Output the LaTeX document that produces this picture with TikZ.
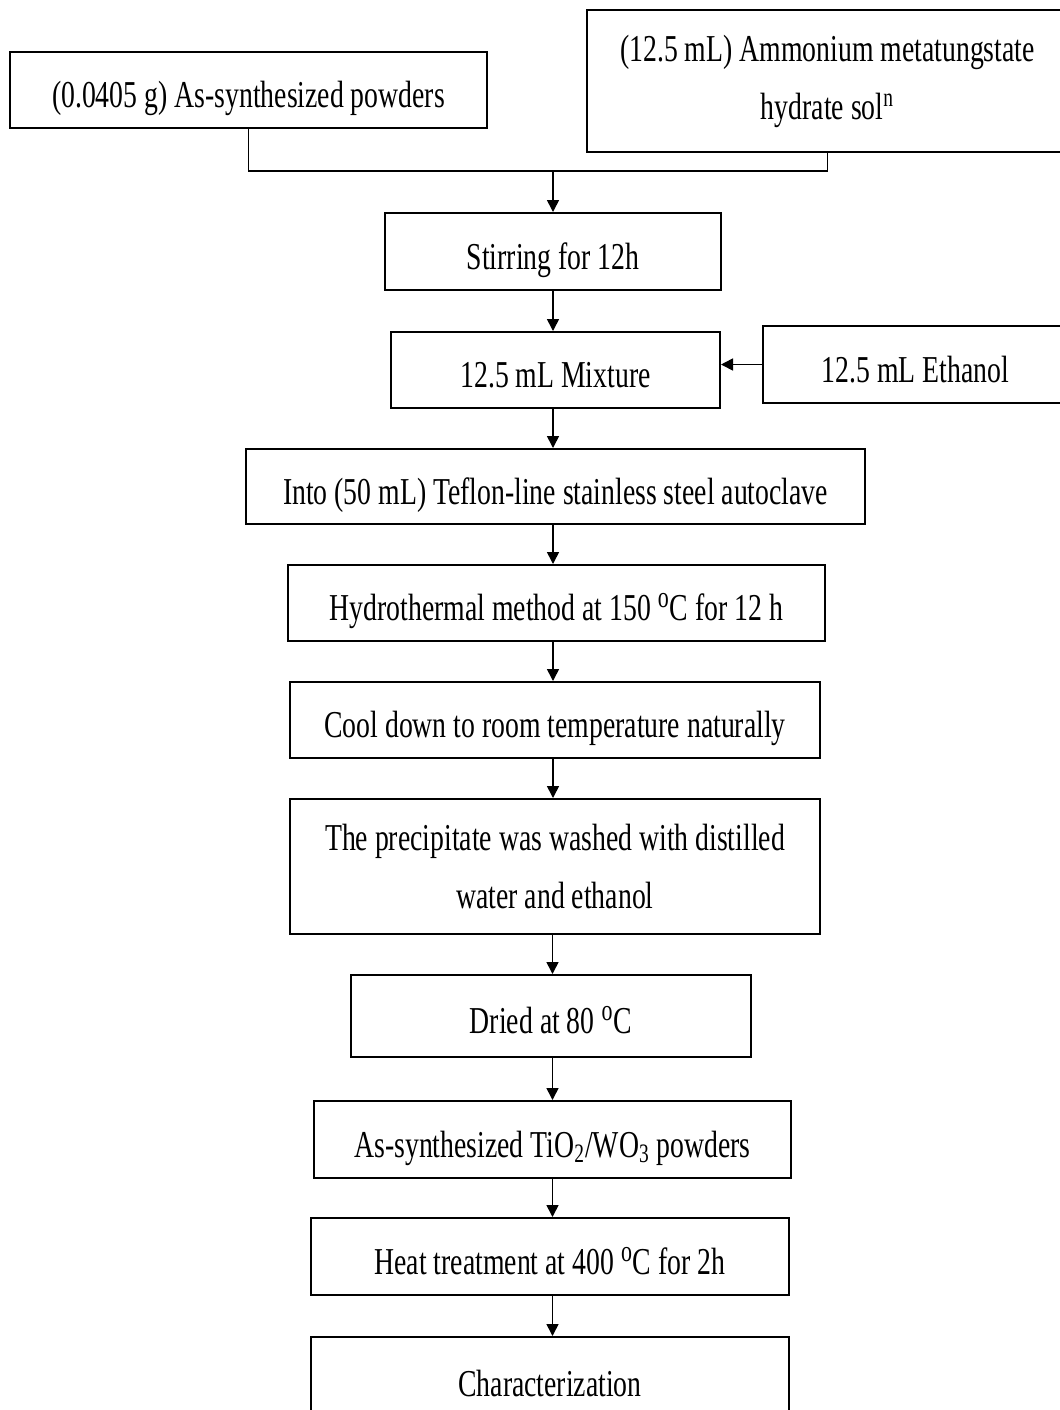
\documentclass[tikz,border=0pt]{standalone}
\usepackage{fontspec}
\setmainfont[FakeStretch=0.73]{Liberation Serif}
\usetikzlibrary{arrows.meta}

\newcommand{\dego}{\raisebox{6.5pt}{\fontsize{15pt}{15pt}\selectfont o}\kern0.5pt}

\tikzset{
  >={Stealth[length=6pt,width=6pt,inset=0pt]},   % arrow tip
  blk/.style={draw, line width=1pt, inner sep=0pt, align=center,
    text height=17.5pt, text depth=0pt,
    font=\fontsize{19pt}{29pt}\selectfont},
  blktwo/.style={blk, text height={}, text depth={}},
  flow/.style={->, line width=0.8pt}
}

\begin{document}
\begin{tikzpicture}[x=0.5pt,y={(0pt,-0.5pt)}]
	\useasboundingbox (0,0) rectangle (1060,1410);
	\clip (0,0) rectangle (1060,1410);
	% sources
	\node[blk, minimum width=238.5pt, minimum height=38pt] (pow) at (248.5,90) {(0.0405 g) As-synthesized powders};
	\node[blktwo, minimum width=240.5pt, minimum height=71pt] (amm) at (827.5,81) {(12.5 mL) Ammonium metatungstate\\hydrate sol\textsuperscript{n}};
	\coordinate (jn) at (553,171);

	% steps
	\node[blk, minimum width=168pt, minimum height=38.5pt] (stir) at (553,251.5) {Stirring for 12h};
	\node[blk, minimum width=164.5pt, minimum height=38pt] (mix) at (555.5,370) {12.5 mL Mixture};
	\node[blk, minimum width=152.5pt, minimum height=38.5pt] (eth) at (915.5,364.5) {12.5 mL Ethanol};
	\node[blk, minimum width=309.5pt, minimum height=37.5pt] (auto) at (555.5,486.5) {Into (50 mL) Teflon-line stainless steel autoclave};
	\node[blk, minimum width=268.5pt, minimum height=38pt] (hyd) at (556.5,603) {Hydrothermal method at 150 \dego C for 12 h};
	\node[blk, minimum width=265pt, minimum height=38pt] (cool) at (555,720) {Cool down to room temperature naturally};
	\node[blktwo, minimum width=265pt, minimum height=67.5pt] (wash) at (555,866.5) {The precipitate was washed with distilled\\water and ethanol};
	\node[blk, minimum width=200pt, minimum height=41pt] (dry) at (551,1016) {Dried at 80 \dego C};
	\node[blk, minimum width=238.5pt, minimum height=38.5pt] (prod) at (552.5,1139.5) {As-synthesized TiO\textsubscript{2}/WO\textsubscript{3} powders};
	\node[blk, minimum width=239pt, minimum height=38.5pt] (heat) at (550,1256.5) {Heat treatment at 400 \dego C for 2h};
	\node[blk, minimum width=239pt, minimum height=41.5pt] (char) at (550,1378.5) {Characterization};

	% connectors
	\draw[line width=0.8pt] (pow.south) |- (jn) -| (amm.south);
	\draw[flow] (jn) -- (jn |- stir.north);
	\draw[flow] (stir.south) -- (stir.south |- mix.north);
	\draw[flow] (eth.west) -- (eth.west -| mix.east);
	\draw[flow] (stir.south |- mix.south) -- (stir.south |- auto.north);
	\draw[flow] (stir.south |- auto.south) -- (stir.south |- hyd.north);
	\draw[flow] (stir.south |- hyd.south) -- (stir.south |- cool.north);
	\draw[flow] (stir.south |- cool.south) -- (stir.south |- wash.north);
	\draw[flow] (prod.north |- wash.south) -- (prod.north |- dry.north);
	\draw[flow] (prod.north |- dry.south) -- (prod.north);
	\draw[flow] (prod.south) -- (prod.south |- heat.north);
	\draw[flow] (prod.south |- heat.south) -- (prod.south |- char.north);
\end{tikzpicture}
\end{document}
